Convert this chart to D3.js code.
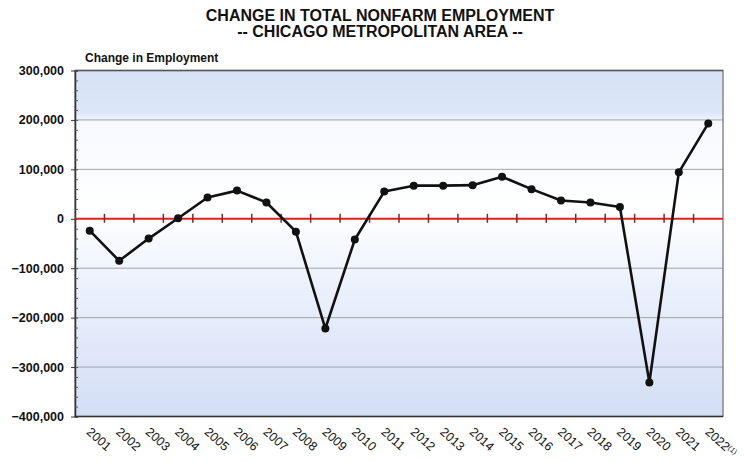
<!DOCTYPE html>
<html>
<head>
<meta charset="utf-8">
<script src="https://cdn.jsdelivr.net/npm/d3@7"></script>
<style>
  html, body { margin: 0; padding: 0; background: #ffffff; }
  svg { display: block; font-family: "Liberation Sans", Arial, sans-serif; }
</style>
</head>
<body>
<svg id="chart" width="744" height="462"></svg>
<script>
// Annual change in total nonfarm employment, Chicago metro area
const years = ["2001","2002","2003","2004","2005","2006","2007","2008","2009","2010","2011",
               "2012","2013","2014","2015","2016","2017","2018","2019","2020","2021","2022"];
const changes = [-24000, -85000, -40000, 1000, 43000, 57000, 33000, -26000, -222000, -42000, 55000,
                 67000, 67000, 68000, 85000, 60000, 37000, 33000, 24000, -331000, 94000, 193000];
const yTicks = [300000, 200000, 100000, 0, -100000, -200000, -300000, -400000];
const yMinorTicks = d3.range(-400000, 300001, 20000);

const svg = d3.select("#chart");
const plot = { left: 75, right: 723, top: 70.5, bottom: 416.5 };

const x = d3.scaleBand().domain(years).range([plot.left, plot.right]).padding(0);
const y = d3.scaleLinear().domain([-400000, 300000]).range([plot.bottom, plot.top]);
const cx = d => x(d) + x.bandwidth() / 2;

// Plot background: blue at the top, fading to white, then blue again at the bottom
const defs = svg.append("defs");
const grad = defs.append("linearGradient").attr("id", "bg").attr("x1", 0).attr("y1", 0).attr("x2", 0).attr("y2", 1);
[[0, "#d5e1f6"], [0.12, "#dce6f8"], [0.15, "#f6f9fe"], [0.4, "#ffffff"], [0.6, "#edf2fc"], [1, "#d3def5"]]
  .forEach(([o, c]) => grad.append("stop").attr("offset", o).attr("stop-color", c));

svg.append("rect")
  .attr("x", plot.left).attr("y", plot.top)
  .attr("width", plot.right - plot.left).attr("height", plot.bottom - plot.top)
  .attr("fill", "url(#bg)");

// Horizontal gridlines
svg.append("g")
  .selectAll("line")
  .data(yTicks.filter(v => v !== 0 && v !== 300000 && v !== -400000))
  .join("line")
  .attr("x1", plot.left).attr("x2", plot.right)
  .attr("y1", d => y(d)).attr("y2", d => y(d))
  .attr("stroke", "#a3a3a3").attr("stroke-width", 1);

// Plot frame
svg.append("rect")
  .attr("x", plot.left).attr("y", plot.top)
  .attr("width", plot.right - plot.left).attr("height", plot.bottom - plot.top)
  .attr("fill", "none").attr("stroke", "#6e6e6e").attr("stroke-width", 1.2);
svg.append("line")
  .attr("x1", plot.left).attr("x2", plot.right)
  .attr("y1", plot.top).attr("y2", plot.top)
  .attr("stroke", "#555").attr("stroke-width", 1.5);

// Y axis with minor ticks
const yMinor = svg.append("g").attr("transform", `translate(${plot.left},0)`)
  .call(d3.axisLeft(y).tickValues(yMinorTicks).tickSize(-3).tickFormat(""));
yMinor.select(".domain").attr("stroke", "#333").attr("stroke-width", 1.5);
yMinor.selectAll(".tick line").attr("stroke", "#555");

const yAxis = svg.append("g").attr("transform", `translate(${plot.left},0)`)
  .call(d3.axisLeft(y).tickValues(yTicks).tickSize(4).tickPadding(7).tickFormat(d3.format(",")));
yAxis.select(".domain").remove();
yAxis.selectAll(".tick line").attr("stroke", "#333");
yAxis.selectAll("text")
  .attr("font-size", "12.5px").attr("font-weight", "bold").attr("fill", "#111")
  .attr("font-family", "'Liberation Sans', Arial, sans-serif");

// Bottom axis line and rotated year labels
svg.append("line")
  .attr("x1", plot.left).attr("x2", plot.right)
  .attr("y1", plot.bottom).attr("y2", plot.bottom)
  .attr("stroke", "#333").attr("stroke-width", 1.5);

const xAxis = svg.append("g").attr("transform", `translate(0,${plot.bottom})`)
  .call(d3.axisBottom(x).tickSize(0).tickFormat(""));
xAxis.select(".domain").remove();
xAxis.selectAll(".tick").each(function(d) {
  const t = d3.select(this).append("text")
    .attr("transform", "translate(2,10) rotate(42)")
    .attr("text-anchor", "start")
    .attr("dominant-baseline", "hanging")
    .attr("font-size", "12.5px")
    .attr("fill", "#111")
    .attr("font-family", "'Liberation Sans', Arial, sans-serif")
    .text(d);
  if (d === "2022") {
    t.append("tspan").attr("font-size", "7.5px").attr("dy", "-1").text("(1)");
  }
});

// Zero reference line with category separators
svg.append("line")
  .attr("x1", plot.left).attr("x2", plot.right)
  .attr("y1", y(0)).attr("y2", y(0))
  .attr("stroke", "#e0221c").attr("stroke-width", 2);
svg.append("g")
  .selectAll("line")
  .data(years.slice(1))
  .join("line")
  .attr("x1", d => x(d)).attr("x2", d => x(d))
  .attr("y1", y(0) - 5).attr("y2", y(0) + 4)
  .attr("stroke", "#8a2525").attr("stroke-width", 1.5);

// Data line and markers
const line = d3.line().x((d, i) => cx(years[i])).y(d => y(d));
svg.append("path")
  .datum(changes)
  .attr("d", line)
  .attr("fill", "none").attr("stroke", "#111").attr("stroke-width", 2.6)
  .attr("stroke-linejoin", "round");
svg.append("g")
  .selectAll("circle")
  .data(changes)
  .join("circle")
  .attr("cx", (d, i) => cx(years[i]))
  .attr("cy", d => y(d))
  .attr("r", 4)
  .attr("fill", "#111");

// Titles
svg.append("text")
  .attr("x", 380).attr("y", 21)
  .attr("text-anchor", "middle")
  .attr("font-size", "16px").attr("font-weight", "bold").attr("fill", "#111")
  .text("CHANGE IN TOTAL NONFARM EMPLOYMENT");
svg.append("text")
  .attr("x", 380).attr("y", 37)
  .attr("text-anchor", "middle")
  .attr("font-size", "16px").attr("font-weight", "bold").attr("fill", "#111")
  .text("-- CHICAGO METROPOLITAN AREA --");
svg.append("text")
  .attr("x", 85).attr("y", 62)
  .attr("font-size", "12px").attr("font-weight", "bold").attr("fill", "#111")
  .text("Change in Employment");
</script>
</body>
</html>
